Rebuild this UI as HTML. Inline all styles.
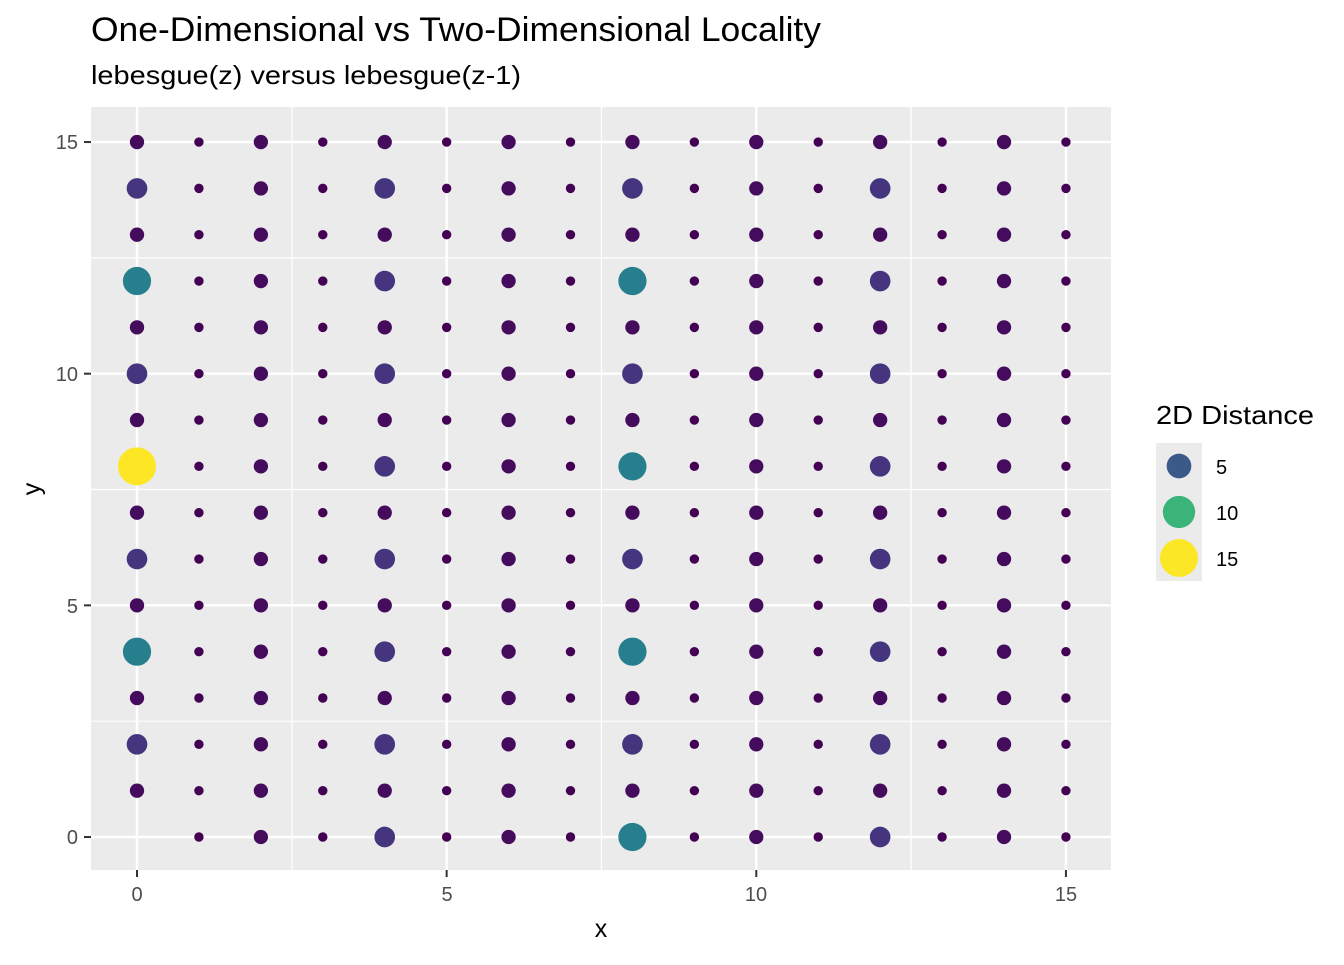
<!DOCTYPE html>
<html><head><meta charset="utf-8"><style>
body{margin:0;background:#fff;font-family:"Liberation Sans",sans-serif;}
</style></head><body>
<svg id="s" width="1344" height="960" xmlns="http://www.w3.org/2000/svg" font-family="Liberation Sans, sans-serif">
<rect width="1344" height="960" fill="#fff"/>
<text x="91" y="41" font-size="34" fill="#000" textLength="730" lengthAdjust="spacingAndGlyphs">One-Dimensional vs Two-Dimensional Locality</text>
<text x="91" y="84" font-size="26" fill="#000" textLength="430" lengthAdjust="spacingAndGlyphs">lebesgue(z) versus lebesgue(z-1)</text>
<rect x="91" y="107" width="1020" height="763" fill="#ebebeb"/>
<g id="grid"></g>
<g id="pts"></g>
<g font-size="20" fill="#4d4d4d" text-anchor="end">
<text x="78" y="844">0</text><text x="78" y="613">5</text><text x="78" y="381">10</text><text x="78" y="149">15</text>
</g>
<g font-size="20" fill="#4d4d4d" text-anchor="middle">
<text x="137" y="901">0</text><text x="447" y="901">5</text><text x="756" y="901">10</text><text x="1066" y="901">15</text>
</g>
<text x="601" y="937" font-size="25" text-anchor="middle">x</text>
<text x="40" y="489" font-size="25" text-anchor="middle" transform="rotate(-90 40 489)">y</text>
<text x="1156" y="424" font-size="26" textLength="158" lengthAdjust="spacingAndGlyphs">2D Distance</text>
<rect x="1156" y="443" width="46" height="138" fill="#ebebeb"/>
<g id="leg"></g>
<g font-size="20" fill="#000">
<text x="1216" y="474">5</text><text x="1216" y="520">10</text><text x="1216" y="566">15</text>
</g>
</svg>
<script>
const NS="http://www.w3.org/2000/svg";
const X=v=>137+v*61.93, Y=v=>837-v*46.33;
const g=document.getElementById('grid');
function ln(x1,y1,x2,y2,w){const l=document.createElementNS(NS,'line');l.setAttribute('x1',x1);l.setAttribute('y1',y1);l.setAttribute('x2',x2);l.setAttribute('y2',y2);l.setAttribute('stroke','#fff');l.setAttribute('stroke-width',w);g.appendChild(l);}
[2.5,7.5,12.5].forEach(v=>{ln(X(v),107,X(v),870,1.2);ln(91,Y(v),1111,Y(v),1.2);});
[0,5,10,15].forEach(v=>{ln(X(v),107,X(v),870,2.4);ln(91,Y(v),1111,Y(v),2.4);});
const sv=document.getElementById('s');
[0,5,10,15].forEach(v=>{
 let a=document.createElementNS(NS,'line');a.setAttribute('x1',X(v));a.setAttribute('x2',X(v));a.setAttribute('y1',870);a.setAttribute('y2',877);a.setAttribute('stroke','#333');a.setAttribute('stroke-width',2);sv.appendChild(a);
 let b=document.createElementNS(NS,'line');b.setAttribute('y1',Y(v));b.setAttribute('y2',Y(v));b.setAttribute('x1',84);b.setAttribute('x2',91);b.setAttribute('stroke','#333');b.setAttribute('stroke-width',2);sv.appendChild(b);
});
const vir=["#440154","#472c7a","#3b518b","#2c718e","#21908d","#27ad81","#5cc863","#aadc32","#fde725"];
function hx(c){return [1,3,5].map(i=>parseInt(c.substr(i,2),16));}
function col(t){t=Math.max(0,Math.min(1,t));const p=t*8,i=Math.min(7,Math.floor(p)),f=p-i;const a=hx(vir[i]),b=hx(vir[i+1]);return 'rgb('+a.map((v,k)=>Math.round(v+(b[k]-v)*f)).join(',')+')';}
function dec(z){let x=0,y=0;for(let b=0;b<4;b++){x|=((z>>(2*b))&1)<<b;y|=((z>>(2*b+1))&1)<<b;}return [x,y];}
const dmin=1,dmax=Math.sqrt(226);
function circ(parent,cx,cy,d,fill){const t=(d-dmin)/(dmax-dmin);const c=document.createElementNS(NS,'circle');c.setAttribute('cx',cx);c.setAttribute('cy',cy);c.setAttribute('r',4.7+14.3*Math.sqrt(Math.max(0,t)));c.setAttribute('fill',fill||col(t));parent.appendChild(c);}
const P=document.getElementById('pts');
for(let z=1;z<256;z++){const [x,y]=dec(z),[a,b]=dec(z-1);circ(P,X(x),Y(y),Math.hypot(x-a,y-b));}
const L=document.getElementById('leg');
circ(L,1179,466,5,"#3b5a8a");circ(L,1179,512,10,"#3bb47a");circ(L,1179,558,15);
</script>
</body></html>
